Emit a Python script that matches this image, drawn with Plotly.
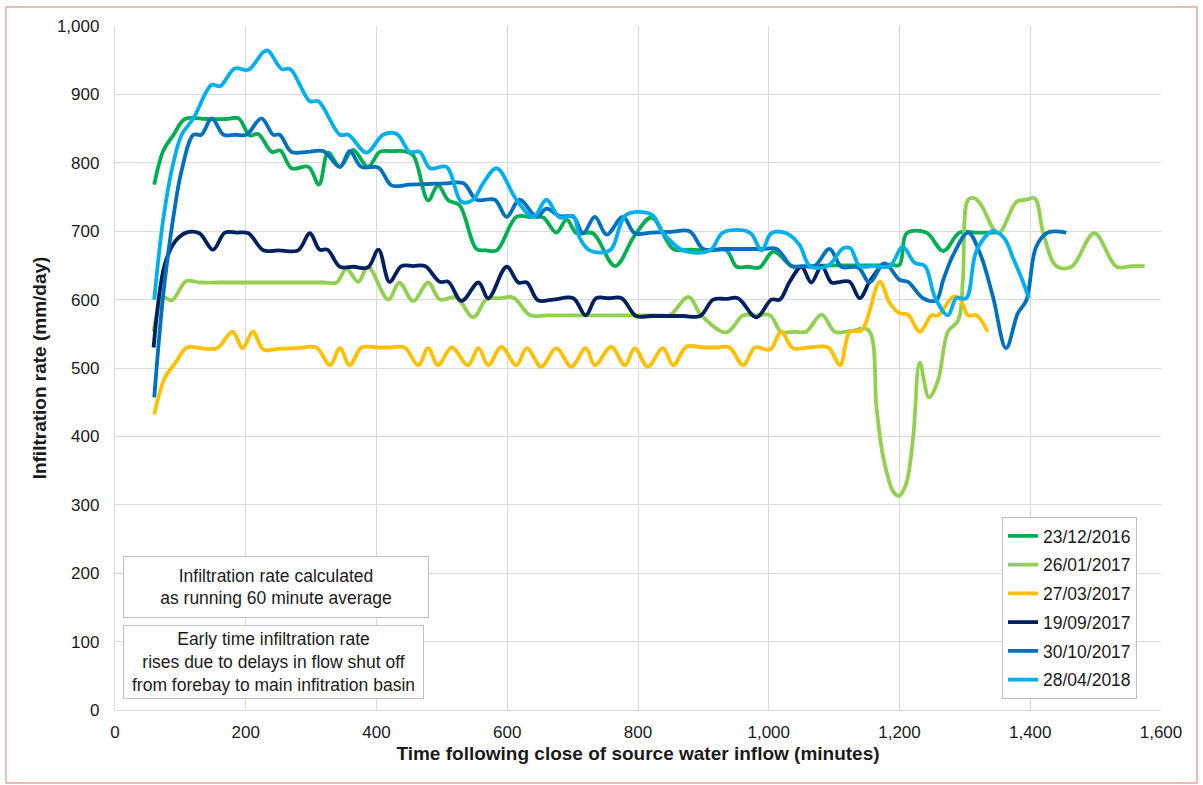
import plotly.graph_objects as go

# Infiltration rate (mm/day) vs minutes after source water inflow closed
t_20161223 = [60, 74, 89, 107, 140, 170, 189, 206, 219, 240, 253, 270, 296, 312, 326, 344, 364, 387, 405,
              425, 441, 456, 479, 494, 510, 527, 553, 568, 584, 614, 635, 655, 675, 691, 706, 731, 765, 795,
              821, 854, 880, 910, 935, 951, 968, 986, 1007, 1037, 1060, 1100, 1130, 1160, 1185, 1200, 1211,
              1241, 1267, 1292, 1320, 1350]
v_20161223 = [768, 818, 840, 864, 864, 864, 865, 840, 842, 816, 818, 792, 794, 768, 815, 794, 819, 794, 816,
              817, 817, 811, 745, 767, 745, 738, 674, 672, 672, 721, 721, 720, 698, 717, 697, 697, 649, 694,
              720, 674, 673, 672, 672, 648, 648, 647, 670, 648, 649, 650, 650, 650, 651, 651, 697,
              698, 671, 698, 698, 698]

t_20170126 = [59, 74, 87, 109, 130, 160, 200, 230, 260, 290, 320, 339, 354, 372, 387, 418, 435, 456, 479,
              497, 522, 548, 568, 589, 609, 635, 660, 690, 720, 750, 780, 810, 835, 849, 877, 897, 935,
              961, 980, 1002, 1019, 1040, 1057, 1081, 1101, 1125, 1152, 1165, 1175, 1190, 1199, 1210,
              1221, 1231, 1245, 1259, 1274, 1290, 1297, 1305, 1315, 1325, 1351, 1379, 1394, 1407, 1420,
              1440, 1463, 1498, 1532, 1555, 1575]
v_20170126 = [553, 603, 599, 627, 625, 625, 625, 625, 625, 625, 625, 625, 645, 626, 648, 600, 625, 598, 625,
              600, 603, 574, 600, 602, 603, 577, 577, 577, 577, 577, 577, 577, 577, 577, 604, 577, 552,
              577, 577, 577, 553, 553, 553, 578, 553, 554, 556, 440, 370, 320, 313, 330,
              400, 508, 457, 482, 553, 570, 629, 746, 748, 738, 697, 743, 746, 748, 697,
              649, 648, 697, 648, 649, 649]

t_20170327 = [60, 76, 92, 110, 130, 156, 180, 195, 211, 227, 250, 280, 308, 329, 344, 359, 377, 400, 420,
              443, 464, 479, 494, 515, 540, 556, 571, 591, 614, 630, 652, 675, 698, 720, 734, 759, 780,
              795, 815, 838, 854, 874, 900, 920, 940, 961, 979, 1002, 1019, 1037, 1060, 1091, 1109, 1124,
              1142, 1170, 1185, 1200, 1213, 1231, 1249, 1259, 1282, 1292, 1305, 1318, 1335]
v_20170327 = [432, 485, 507, 530, 529, 529, 553, 529, 553, 527, 528, 529, 530, 504, 529, 504, 530, 530, 530,
              530, 504, 529, 504, 530, 504, 529, 504, 531, 504, 529, 502, 529, 502, 529, 504, 531, 504,
              529, 502, 529, 504, 531, 530, 530, 530, 504, 530, 527, 553, 529, 530, 530, 504, 553,
              555, 626, 595, 580, 578, 553, 577, 577, 604, 602, 577, 577, 553]

t_20170919 = [59, 76, 92, 109, 129, 150, 168, 186, 204, 227, 250, 280, 298, 313, 325, 344, 365, 387, 403,
              420, 438, 456, 474, 497, 510, 530, 556, 571, 599, 617, 630, 647, 670, 701, 720, 736, 755,
              775, 797, 820, 845, 870, 895, 915, 935, 953, 981, 1004, 1017, 1032, 1050, 1065, 1081, 1096,
              1110, 1124, 1139, 1154, 1168]
v_20170919 = [530, 651, 685, 698, 697, 673, 698, 698, 697, 672, 672, 672, 697, 673, 673, 648, 648, 647, 673,
              626, 649, 649, 649, 626, 626, 598, 625, 602, 648, 625, 625, 599, 600, 602, 577, 602, 602,
              602, 576, 576, 576, 576, 576, 600, 601, 602, 574, 600, 600, 626, 648, 625, 649, 625,
              626, 626, 602, 626, 645]

t_20171030 = [60, 74, 89, 102, 120, 132, 148, 166, 184, 201, 224, 242, 252, 270, 295, 319, 344, 359, 377,
              403, 423, 450, 480, 505, 533, 553, 581, 599, 619, 645, 660, 680, 701, 716, 734, 752, 777,
              795, 820, 850, 879, 900, 930, 960, 990, 1012, 1035, 1052, 1070, 1093, 1111, 1137, 1154,
              1177, 1200, 1213, 1236, 1256, 1267, 1282, 1305, 1323, 1343, 1363, 1381, 1394, 1409, 1427,
              1455]
v_20171030 = [457, 609, 719, 789, 841, 841, 865, 841, 841, 841, 865, 841, 841, 816, 816, 817, 794, 817, 794,
              793, 767, 768, 769, 770, 770, 746, 746, 721, 746, 721, 733, 722, 721, 697, 721, 695, 721,
              697, 698, 699, 700, 674, 674, 674, 674, 674, 649, 649, 649, 674, 648, 647, 625,
              653, 629, 626, 602, 599, 629, 665, 698, 668, 604, 529, 580, 599, 677, 698,
              698]

t_20180428 = [60, 74, 89, 102, 120, 148, 161, 183, 204, 227, 234, 255, 268, 298, 311, 344, 357, 385, 410,
              431, 451, 466, 482, 507, 530, 548, 563, 584, 614, 640, 660, 680, 701, 711, 726, 757, 782,
              821, 838, 869, 910, 930, 971, 989, 1004, 1027, 1047, 1063, 1090, 1114, 1125, 1139, 1160,
              1185, 1205, 1223, 1239, 1254, 1274, 1287, 1302, 1318, 1343, 1360, 1374, 1386, 1398]
v_20180428 = [600, 719, 799, 841, 865, 914, 912, 938, 936, 962, 964, 937, 937, 890, 890, 841, 841, 815, 841,
              842, 816, 816, 792, 794, 743, 746, 770, 792, 746, 721, 746, 720, 722, 690, 672, 672, 724,
              724, 698, 672, 672, 698, 698, 672, 697, 697, 680, 649, 649, 675, 675, 649, 649,
              649, 677, 654, 649, 604, 577, 602, 602, 672, 700, 690, 660, 633, 602]

series = [
    ("23/12/2016", t_20161223, v_20161223, "#00B050"),
    ("26/01/2017", t_20170126, v_20170126, "#92D050"),
    ("27/03/2017", t_20170327, v_20170327, "#FFC000"),
    ("19/09/2017", t_20170919, v_20170919, "#002060"),
    ("30/10/2017", t_20171030, v_20171030, "#0070C0"),
    ("28/04/2018", t_20180428, v_20180428, "#00B0F0"),
]

FONT = "Liberation Sans, Arial, sans-serif"
TXT = "#1a1a1a"
GRID = "#D9D9D9"

fig = go.Figure()
for name, t, v, color in series:
    fig.add_trace(go.Scatter(
        x=t, y=v, name=name, mode="lines", legendgroup=name,
        line=dict(color=color, width=3.8, shape="spline", smoothing=1.0),
    ))

# plot area: x 115..1161 px, y 26..710 px
L, R, T, B = 115, 1161, 26, 710
W, H = 1203, 785


def px(xp):
    return (xp - L) / (R - L)


def py(yp):
    return (B - yp) / (B - T)


fig.update_layout(
    width=W, height=H,
    margin=dict(l=L, r=W - R, t=T, b=H - B, pad=0),
    paper_bgcolor="white", plot_bgcolor="white",
    font=dict(family=FONT, size=17, color=TXT),
    showlegend=True,
    legend=dict(
        x=px(1002), y=py(517), xanchor="left", yanchor="top",
        bgcolor="white", bordercolor="#BFBFBF", borderwidth=1,
        font=dict(family=FONT, size=17.5, color=TXT),
        tracegroupgap=3, traceorder="grouped",
    ),
    xaxis=dict(
        range=[0, 1600], dtick=200, tick0=0, tickformat=",",
        showgrid=True, gridcolor=GRID, gridwidth=1.3,
        showline=True, linecolor=GRID, linewidth=1.3,
        zeroline=False, ticks="", ticklabelstandoff=6,
        tickfont=dict(size=17, color=TXT),
        title=dict(text="<b>Time following close of source water inflow (minutes)</b>",
                   font=dict(size=19, color=TXT), standoff=6),
    ),
    yaxis=dict(
        range=[0, 1000], dtick=100, tick0=0, tickformat=",",
        showgrid=True, gridcolor=GRID, gridwidth=1.3,
        showline=True, linecolor=GRID, linewidth=1.3,
        zeroline=False, ticks="", ticklabelstandoff=11,
        tickfont=dict(size=17, color=TXT),
        title=dict(text="<b>Infiltration rate (mm/day)</b>",
                   font=dict(size=19, color=TXT), standoff=5),
    ),
    shapes=[
        dict(type="rect", xref="paper", yref="paper",
             x0=px(6), x1=px(1197), y0=py(783), y1=py(7),
             line=dict(color="#E8A696", width=1.5), fillcolor="rgba(0,0,0,0)", layer="below"),
    ],
    annotations=[
        dict(xref="paper", yref="paper", x=px(276), y=py(587), xanchor="center", yanchor="middle",
             text="Infiltration rate calculated<br>as running 60 minute average",
             showarrow=False, align="center", width=302, height=58,
             bgcolor="white", bordercolor="#BFBFBF", borderwidth=1, borderpad=1,
             font=dict(size=17.5, color=TXT)),
        dict(xref="paper", yref="paper", x=px(273.5), y=py(662), xanchor="center", yanchor="middle",
             text="Early time infiltration rate<br>rises due to delays in flow shut off<br>"
                  "from forebay to main infitration basin",
             showarrow=False, align="center", width=297, height=70,
             bgcolor="white", bordercolor="#BFBFBF", borderwidth=1, borderpad=1,
             font=dict(size=17.5, color=TXT)),
    ],
)

fig.write_html("out.html")
